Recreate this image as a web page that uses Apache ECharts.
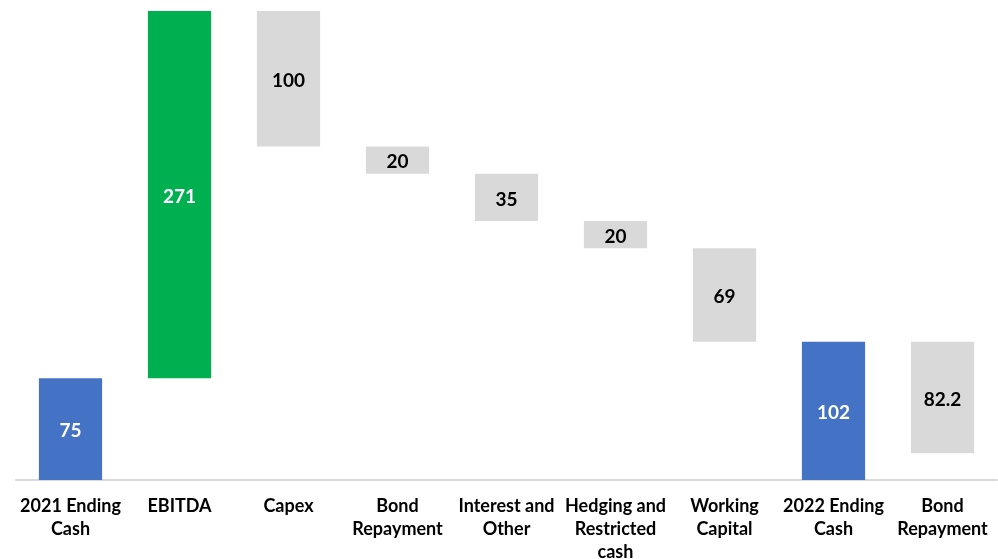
<!DOCTYPE html>
<html>
<head>
<meta charset="utf-8">
<script src="https://cdn.jsdelivr.net/npm/echarts@6/dist/echarts.min.js"></script>
<style>
html, body { margin: 0; padding: 0; background: #fff; }
#chart { width: 998px; height: 559px; }
</style>
</head>
<body>
<div id="chart"></div>
<script>
var categories = ['2021 Ending\nCash', 'EBITDA', 'Capex', 'Bond\nRepayment', 'Interest and\nOther', 'Hedging and\nRestricted\ncash', 'Working\nCapital', '2022 Ending\nCash', 'Bond\nRepayment'];
var amounts = [75, 271, 100, 20, 35, 20, 69, 102, 82.2];
var kinds = ['total', 'up', 'down', 'down', 'down', 'down', 'down', 'total', 'down'];

var colors = { total: '#4472C4', up: '#00B050', down: '#D9D9D9' };
var labelColors = { total: '#FFFFFF', up: '#FFFFFF', down: '#000000' };

// invisible base under each floating bar
var bases = [], level = 0;
for (var i = 0; i < amounts.length; i++) {
	if (kinds[i] == 'total') { bases.push(0); level = amounts[i]; }
	else if (kinds[i] == 'up') { bases.push(level); level += amounts[i]; }
	else { level -= amounts[i]; bases.push(Math.round(level * 10) / 10); }
}

var barData = amounts.map(function(v, i) {
	return {
		value: v,
		itemStyle: { color: colors[kinds[i]] },
		label: { color: labelColors[kinds[i]] }
	};
});

var myChart = echarts.init(document.getElementById('chart'));
myChart.setOption({
	animation: false,
	grid: { left: 16, right: 1, top: 11, bottom: 79, outerBoundsMode: 'none' },
	xAxis: {
		type: 'category',
		data: categories,
		axisLine: { lineStyle: { color: '#D9D9D9', width: 2 } },
		axisTick: { show: false },
		axisLabel: {
			interval: 0,
			margin: 15,
			color: '#000',
			fontFamily: 'Lato',
			fontWeight: 'bold',
			fontSize: 18,
			lineHeight: 23
		}
	},
	yAxis: {
		type: 'value',
		min: 0,
		max: 346,
		show: false,
		splitLine: { show: false }
	},
	series: [{
		type: 'bar',
		stack: 'w',
		data: bases,
		itemStyle: { color: 'transparent' },
		barWidth: '58%',
		silent: true
	}, {
		type: 'bar',
		stack: 'w',
		data: barData,
		barWidth: '58%',
		label: {
			show: true,
			position: 'inside',
			offset: [0, 2],
			fontFamily: 'Lato',
			fontWeight: 'bold',
			fontSize: 19
		}
	}]
});
</script>
</body>
</html>
